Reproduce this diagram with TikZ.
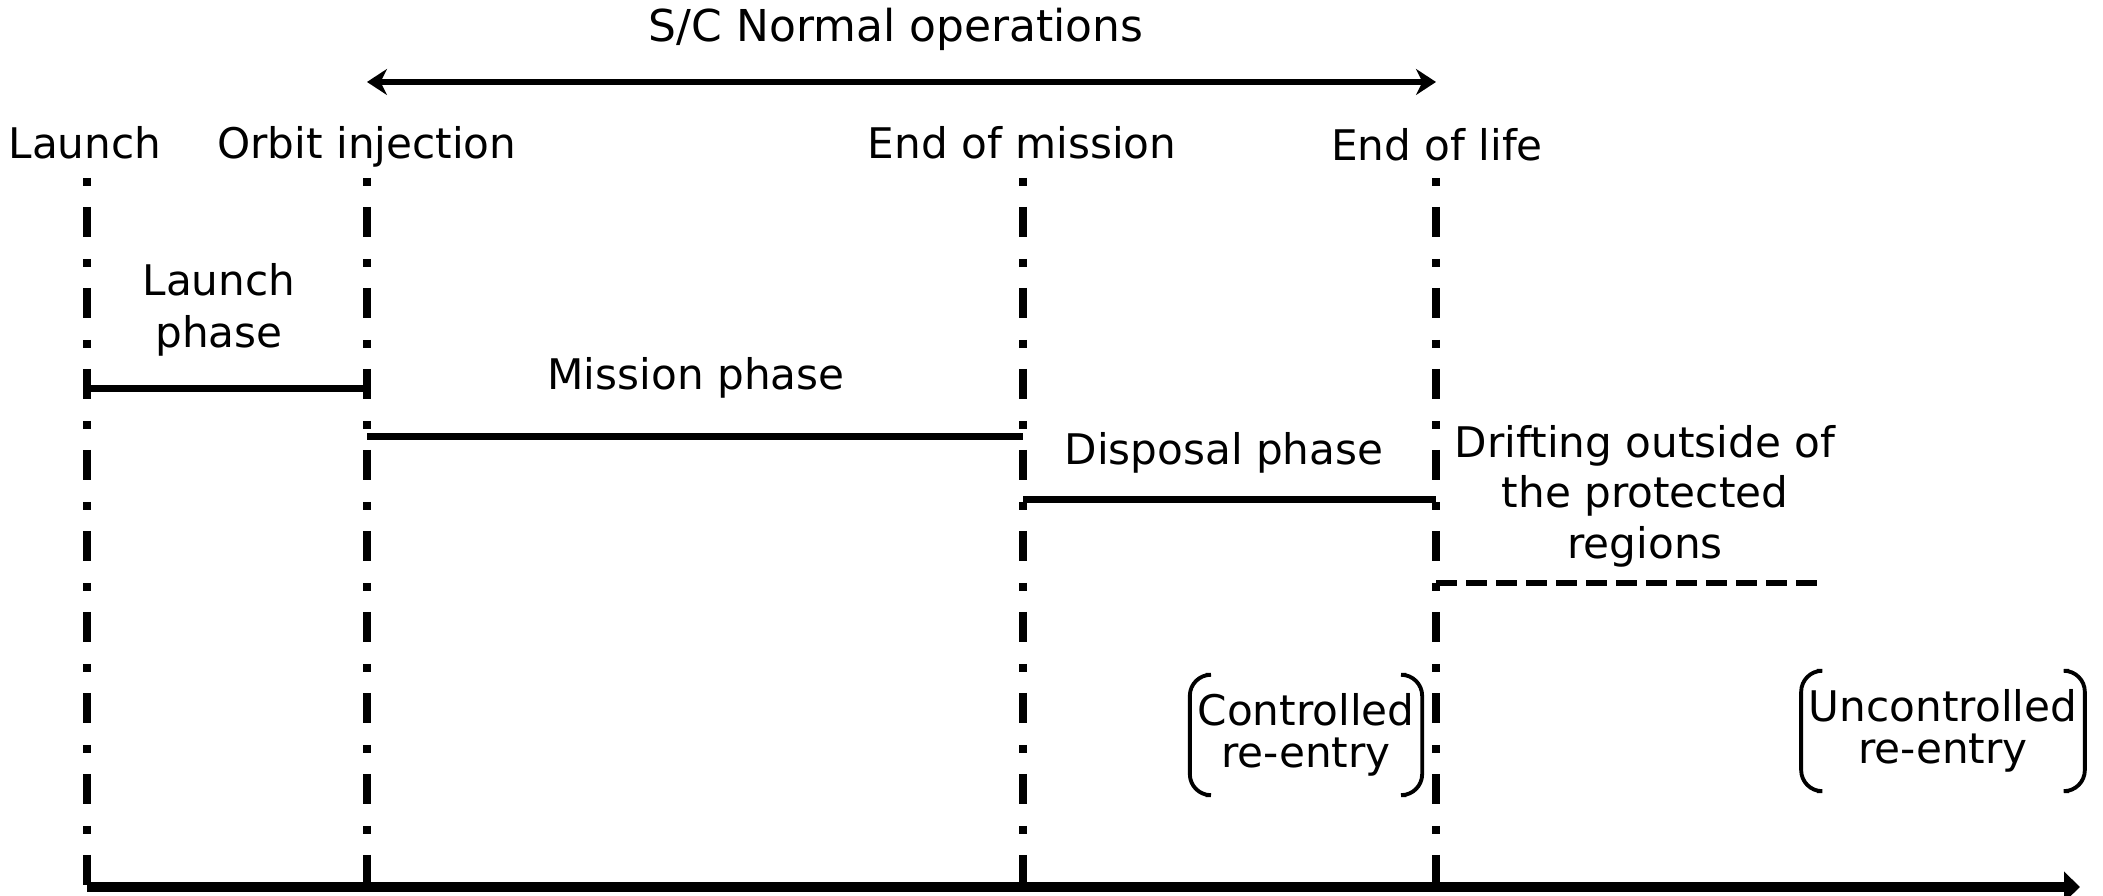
\documentclass[tikz,border=0pt]{standalone}
\usepackage{fontspec}
\setmainfont{DejaVu Sans}
\usetikzlibrary{arrows.meta}

\tikzset{
  milestone/.style={line width=2pt, dash pattern=on 0.08cm off 0.21cm on 0.30cm off 0.22cm},
  phaseline/.style={line width=2pt},
  txt/.style={font=\fontsize{12}{14.7}\selectfont, align=center, inner sep=0pt},
  reentry/.style={font=\fontsize{12}{12}\selectfont, align=center, inner xsep=2pt, inner ysep=0pt, minimum height=1.19cm},
  paren/.style={line width=1.1pt, rounded corners=6pt},
}

\begin{document}
\begin{tikzpicture}
\useasboundingbox (0,0) rectangle (21.03,8.96);

% milestones on the time axis
\coordinate (launch) at (0.87,7.18);
\coordinate (inject) at (3.67,7.18);
\coordinate (eom) at (10.23,7.18);
\coordinate (eol) at (14.36,7.18);
\coordinate (t0) at (0.87,0.09);
\coordinate (tend) at (20.80,0.09);
\coordinate (ops0) at (3.67,8.14);
\coordinate (ops1) at (14.36,8.14);

\foreach \m in {launch,inject,eom,eol}
  \draw[milestone] (\m) -- (\m |- t0);

\draw[line width=2.6pt, -{Triangle[length=0.16cm,width=0.3cm]}] (t0) -- (tend);
\draw[line width=1.8pt, {Stealth[length=0.2cm,width=0.26cm]}-{Stealth[length=0.2cm,width=0.26cm]}] (ops0) -- (ops1);

\node[txt, font=\fontsize{12.5}{15}\selectfont, anchor=base] (ops) at (8.96,8.54) {S/C Normal operations};
\node[txt, anchor=base] (t-launch) at (0.85,7.37) {Launch};
\node[txt, anchor=base] (t-inject) at (3.67,7.37) {Orbit injection};
\node[txt, anchor=base] (t-eom) at (10.22,7.37) {End of mission};
\node[txt, anchor=base] (t-eol) at (14.37,7.35) {End of life};

% phases
\draw[phaseline] (0.87,5.07) -- (3.67,5.07);
\draw[phaseline] (3.67,4.59) -- (10.23,4.59);
\draw[phaseline] (10.23,3.96) -- (14.36,3.96);
\draw[phaseline, line width=1.7pt, dash pattern=on 0.21cm off 0.09cm] (14.36,3.13) -- (18.21,3.13);

\node[txt] (p-launch) at (2.19,5.86) {Launch\\phase};
\node[txt, anchor=base] (p-mission) at (6.96,5.06) {Mission phase};
\node[txt, anchor=base] (p-disposal) at (12.24,4.31) {Disposal phase};
\node[txt, font=\fontsize{12}{14.4}\selectfont] (p-drift) at (16.45,4.00) {Drifting outside of\\the protected\\regions};

% re-entry options
\node[reentry] (ctrl) at (13.06,1.61) {Controlled\\re-entry};
\node[reentry] (unctrl) at (19.43,1.65) {Uncontrolled\\re-entry};
\foreach \n in {ctrl,unctrl} {
  \draw[paren] ([xshift=4.5pt]\n.north west) -- (\n.north west) -- (\n.south west) -- ([xshift=4.5pt]\n.south west);
  \draw[paren] ([xshift=-4.5pt]\n.north east) -- (\n.north east) -- (\n.south east) -- ([xshift=-4.5pt]\n.south east);
}
\end{tikzpicture}
\end{document}
